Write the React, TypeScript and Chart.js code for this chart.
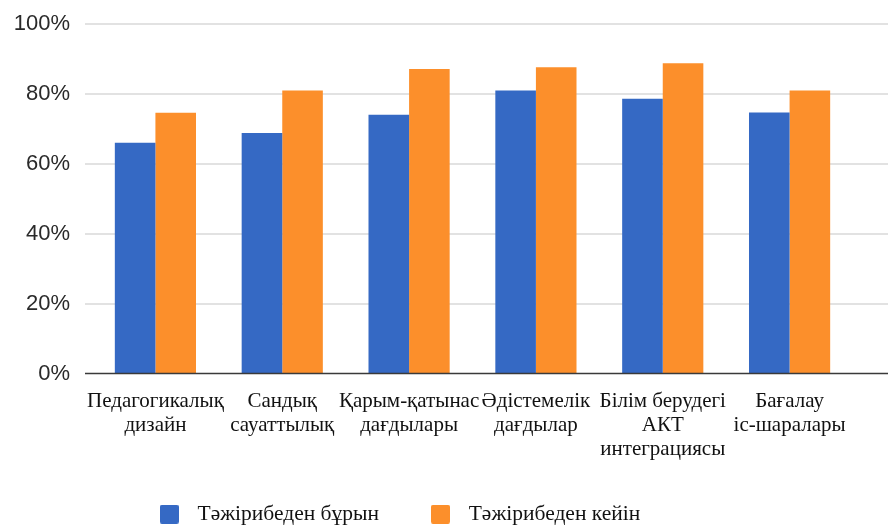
import { useEffect, useRef } from 'react';
import { Chart, registerables } from 'chart.js';

Chart.register(...registerables);

const categories: string[][] = [
  ['Педагогикалық', 'дизайн'],
  ['Сандық', 'сауаттылық'],
  ['Қарым-қатынас', 'дағдылары'],
  ['Әдістемелік', 'дағдылар'],
  ['Білім берудегі', 'АКТ', 'интеграциясы'],
  ['Бағалау', 'іс-шаралары'],
];
const seriesNames = ['Тәжірибеден бұрын', 'Тәжірибеден кейін'];
const beforeValues = [66, 68.8, 74, 81, 78.6, 74.7];
const afterValues = [74.6, 81, 87.1, 87.6, 88.8, 81];
const yTickValues = [0, 20, 40, 60, 80, 100];
const seriesColors = ['#3569C4', '#FC8F2B'];

function makeSwatch(color: string): HTMLCanvasElement {
  const c = document.createElement('canvas');
  c.width = 19;
  c.height = 19;
  const g = c.getContext('2d')!;
  g.fillStyle = color;
  g.beginPath();
  (g as any).roundRect ? (g as any).roundRect(0, 0, 19, 19, 2) : g.rect(0, 0, 19, 19);
  g.fill();
  return c;
}

const gridPlugin = {
  id: 'fullGrid',
  afterLayout(chart: any) {
    // let multi-line category labels extend below the axis box without clipping
    chart.scales.x.bottom = chart.height;
  },
  beforeDatasetsDraw(chart: any) {
    const { ctx, chartArea, scales } = chart;
    const y = scales.y;
    ctx.save();
    ctx.strokeStyle = '#e2e2e2';
    ctx.lineWidth = 2;
    yTickValues.forEach((v) => {
      if (v === 0) return;
      const py = Math.round(y.getPixelForValue(v));
      ctx.beginPath();
      ctx.moveTo(chartArea.left - 7, py);
      ctx.lineTo(chart.width, py);
      ctx.stroke();
    });
    ctx.restore();
  },
  afterDatasetsDraw(chart: any) {
    const { ctx, chartArea, scales } = chart;
    const py = scales.y.getPixelForValue(0);
    ctx.save();
    ctx.strokeStyle = '#3a3a3a';
    ctx.lineWidth = 1.5;
    ctx.beginPath();
    ctx.moveTo(chartArea.left - 7, py);
    ctx.lineTo(chart.width, py);
    ctx.stroke();
    ctx.restore();
  },
};

export default function App() {
  const ref = useRef<HTMLCanvasElement>(null);
  useEffect(() => {
    if (!ref.current) return;
    const swatches = seriesColors.map(makeSwatch);
    const chart = new Chart(ref.current, {
      type: 'bar',
      data: {
        labels: categories,
        datasets: [
          {
            label: seriesNames[0],
            data: beforeValues,
            backgroundColor: seriesColors[0],
            borderWidth: 0,
            categoryPercentage: 0.64,
            barPercentage: 1.0,
          },
          {
            label: seriesNames[1],
            data: afterValues,
            backgroundColor: seriesColors[1],
            borderWidth: 0,
            categoryPercentage: 0.64,
            barPercentage: 1.0,
          },
        ],
      },
      options: {
        animation: false,
        responsive: true,
        maintainAspectRatio: false,
        layout: { padding: { left: -61, right: 35, top: 24, bottom: -7 } },
        plugins: {
          tooltip: { enabled: false },
          legend: {
            position: 'bottom',
            labels: {
              usePointStyle: true,
              pointStyleWidth: 35,
              boxHeight: 19,
              padding: 44,
              color: '#111',
              font: { family: '"Liberation Serif", "Times New Roman", serif', size: 21.5 },
              generateLabels: (c: any) => {
                const items = (Chart.defaults.plugins.legend.labels as any).generateLabels(c);
                return items.map((it: any, i: number) => ({ ...it, pointStyle: swatches[i] }));
              },
            },
          },
        },
        scales: {
          x: {
            grid: { display: false, drawTicks: false },
            border: { display: false },
            ticks: {
              autoSkip: false,
              maxRotation: 0,
              minRotation: 0,
              padding: 16,
              color: '#111',
              font: { family: '"Liberation Serif", "Times New Roman", serif', size: 21, lineHeight: '24px' },
            },
            afterFit: (s: any) => {
              s.height = 86;
            },
          },
          y: {
            min: 0,
            max: 100,
            grid: { display: false, drawTicks: true, tickLength: 22 },
            border: { display: false },
            ticks: {
              stepSize: 20,
              padding: 0,
              color: '#2a2a2a',
              font: { family: '"Liberation Sans", Arial, sans-serif', size: 22 },
              callback: (v: any) => v + '%',
            },
            afterFit: (s: any) => {
              s.width = 153;
            },
          },
        },
      },
      plugins: [gridPlugin],
    } as any);
    return () => chart.destroy();
  }, []);
  return (
    <div style={{ position: 'fixed', left: 0, top: 0, width: 888, height: 528, background: '#fff' }}>
      <canvas ref={ref} />
    </div>
  );
}
